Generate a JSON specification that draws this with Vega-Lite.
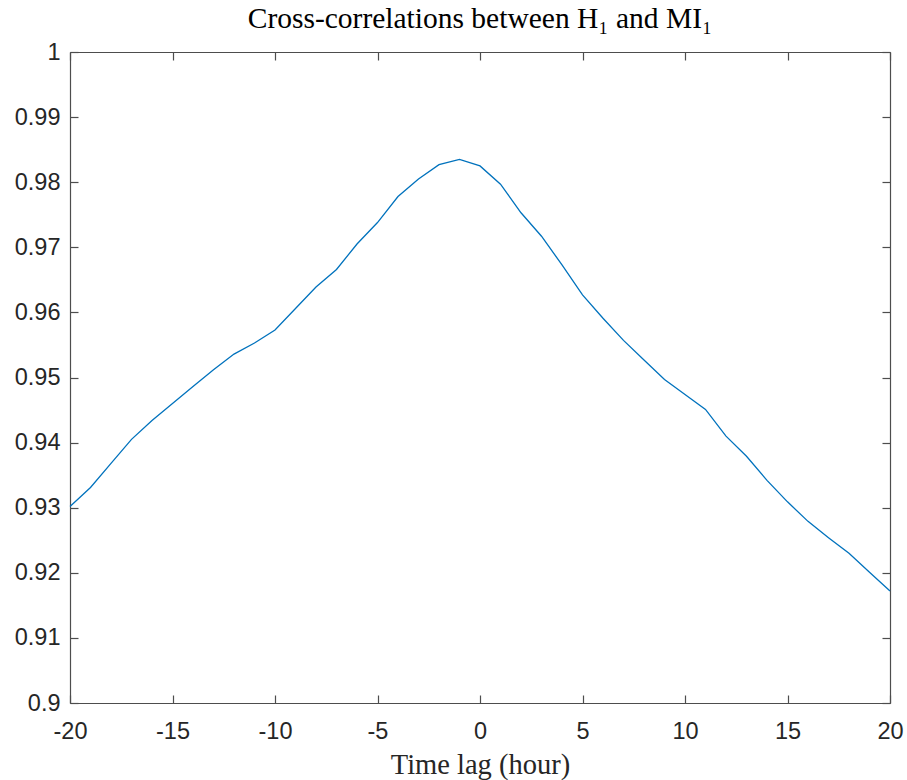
{
  "$schema": "https://vega.github.io/schema/vega-lite/v6.json",
  "autosize": "none",
  "width": 820,
  "height": 651,
  "padding": {"left": 70, "top": 52, "right": 17, "bottom": 77},
  "background": "white",
  "title": {
    "text": "Cross-correlations between H₁ and MI₁",
    "font": "Liberation Serif",
    "fontSize": 29.5,
    "fontWeight": "normal",
    "color": "#000000",
    "offset": 6
  },
  "config": {
    "view": {"stroke": null},
    "axis": {
      "grid": false,
      "domainColor": "#4d4d4d",
      "domainWidth": 1.2,
      "tickColor": "#4d4d4d",
      "tickWidth": 1.2,
      "tickSize": -8,
      "labelFont": "Liberation Sans",
      "labelFontSize": 23.5,
      "labelColor": "#262626",
      "titleFont": "Liberation Serif",
      "titleFontSize": 28.5,
      "titleFontWeight": "normal",
      "titleColor": "#262626"
    }
  },
  "data": {
    "values": [
      {"lag": -20, "r": 0.9302},
      {"lag": -19, "r": 0.9331},
      {"lag": -18, "r": 0.9368},
      {"lag": -17, "r": 0.9405},
      {"lag": -16, "r": 0.9434},
      {"lag": -15, "r": 0.9460},
      {"lag": -14, "r": 0.9486},
      {"lag": -13, "r": 0.9512},
      {"lag": -12, "r": 0.9536},
      {"lag": -11, "r": 0.9553},
      {"lag": -10, "r": 0.9573},
      {"lag": -9, "r": 0.9606},
      {"lag": -8, "r": 0.9639},
      {"lag": -7, "r": 0.9666},
      {"lag": -6, "r": 0.9705},
      {"lag": -5, "r": 0.9738},
      {"lag": -4, "r": 0.9778},
      {"lag": -3, "r": 0.9805},
      {"lag": -2, "r": 0.9827},
      {"lag": -1, "r": 0.9835},
      {"lag": 0, "r": 0.9825},
      {"lag": 1, "r": 0.9797},
      {"lag": 2, "r": 0.9753},
      {"lag": 3, "r": 0.9717},
      {"lag": 4, "r": 0.9673},
      {"lag": 5, "r": 0.9627},
      {"lag": 6, "r": 0.9591},
      {"lag": 7, "r": 0.9557},
      {"lag": 8, "r": 0.9527},
      {"lag": 9, "r": 0.9497},
      {"lag": 10, "r": 0.9474},
      {"lag": 11, "r": 0.9451},
      {"lag": 12, "r": 0.9410},
      {"lag": 13, "r": 0.9379},
      {"lag": 14, "r": 0.9342},
      {"lag": 15, "r": 0.9309},
      {"lag": 16, "r": 0.9279},
      {"lag": 17, "r": 0.9254},
      {"lag": 18, "r": 0.9230},
      {"lag": 19, "r": 0.9201},
      {"lag": 20, "r": 0.9172}
    ]
  },
  "layer": [
    {
      "mark": {"type": "line", "color": "#0072BD", "strokeWidth": 1.3},
      "encoding": {
        "x": {
          "field": "lag", "type": "quantitative",
          "scale": {"domain": [-20, 20], "nice": false, "zero": false},
          "axis": {
            "orient": "bottom",
            "title": "Time lag (hour)",
            "values": [-20, -15, -10, -5, 0, 5, 10, 15, 20],
            "labelExpr": "datum.value + ''",
            "labelPadding": 24,
            "labelFlush": false,
            "titlePadding": 8
          }
        },
        "y": {
          "field": "r", "type": "quantitative",
          "scale": {"domain": [0.9, 1], "nice": false, "zero": false},
          "axis": {
            "orient": "left",
            "title": null,
            "values": [0.9, 0.91, 0.92, 0.93, 0.94, 0.95, 0.96, 0.97, 0.98, 0.99, 1],
            "format": "~g",
            "labelPadding": 18,
            "labelFlush": false
          }
        }
      }
    },
    {
      "mark": {"type": "line", "opacity": 0},
      "encoding": {
        "x": {
          "field": "lag", "type": "quantitative",
          "axis": {
            "orient": "top",
            "title": null,
            "labels": false,
            "values": [-20, -15, -10, -5, 0, 5, 10, 15, 20]
          }
        },
        "y": {
          "field": "r", "type": "quantitative",
          "axis": {
            "orient": "right",
            "title": null,
            "labels": false,
            "values": [0.9, 0.91, 0.92, 0.93, 0.94, 0.95, 0.96, 0.97, 0.98, 0.99, 1]
          }
        }
      }
    }
  ],
  "resolve": {"axis": {"x": "independent", "y": "independent"}}
}
